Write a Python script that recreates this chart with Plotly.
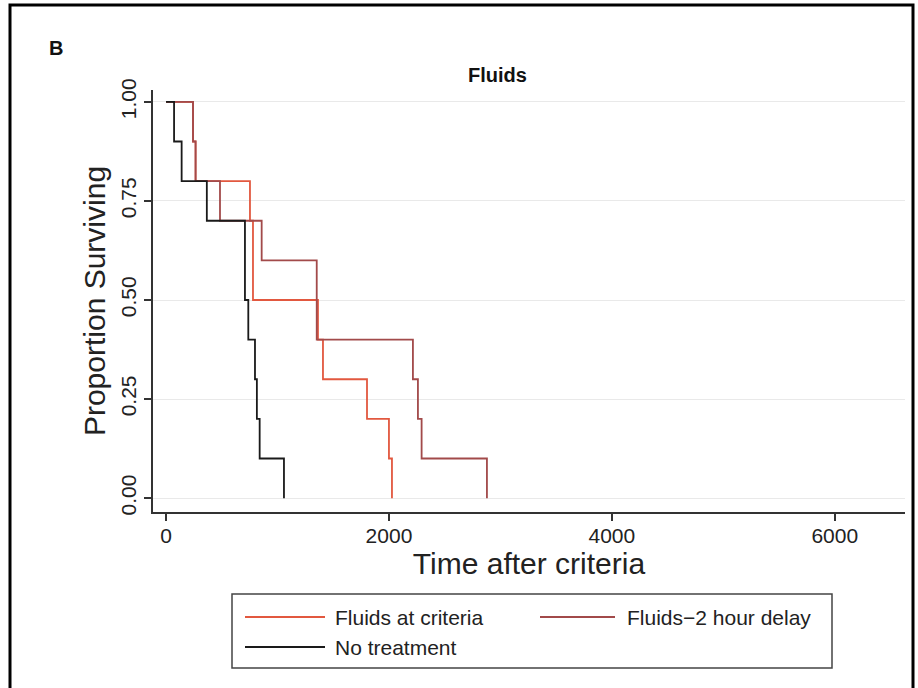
import plotly.graph_objects as go

# ---- data ----
series_names = ["Fluids at criteria", "Fluids\u22122 hour delay", "No treatment"]
t_criteria = [0, 242, 265, 753, 780, 1363, 1408, 1803, 2000, 2027]
s_criteria = [1.0, 0.9, 0.8, 0.7, 0.5, 0.4, 0.3, 0.2, 0.1, 0.0]
t_delay = [0, 242, 265, 484, 858, 1352, 2215, 2260, 2293, 2879]
s_delay = [1.0, 0.9, 0.8, 0.7, 0.6, 0.4, 0.3, 0.2, 0.1, 0.0]
t_none = [0, 72, 140, 366, 708, 738, 798, 815, 840, 1058]
s_none = [1.0, 0.9, 0.8, 0.7, 0.5, 0.4, 0.3, 0.2, 0.1, 0.0]
x_ticks = [0, 2000, 4000, 6000]
y_ticks = [0, 0.25, 0.5, 0.75, 1.0]
y_tick_labels = ["0.00", "0.25", "0.50", "0.75", "1.00"]

colors = ["#e2583f", "#a24a4a", "#1a1a1a"]
FONT = "Liberation Sans, Arial, Helvetica, sans-serif"

W, H = 918, 688
L, R, T, B = 153, 13, 90, 176
PW, PH = W - L - R, H - T - B


def px(xp):
    return (xp - L) / PW


def py(yp):
    return (H - B - yp) / PH


fig = go.Figure()
for name, tx, sy, c in zip(series_names, [t_criteria, t_delay, t_none],
                           [s_criteria, s_delay, s_none], colors):
    fig.add_trace(go.Scatter(x=tx, y=sy, mode="lines", name=name,
                             line=dict(color=c, width=1.8, shape="hv"),
                             showlegend=False))

fig.update_layout(
    width=W, height=H,
    margin=dict(l=L, r=R, t=T, b=B),
    paper_bgcolor="white", plot_bgcolor="white",
    font=dict(family=FONT, color="#222"),
)
fig.update_xaxes(range=[-117, 6630], tickvals=x_ticks,
                 ticks="outside", ticklen=7, tickwidth=1.5, tickcolor="#333",
                 showline=True, linecolor="#333", linewidth=2,
                 showgrid=False, zeroline=False,
                 ticklabelstandoff=-3,
                 tickfont=dict(size=21, family=FONT, color="#222"),
                 title=dict(text="Time after criteria", font=dict(size=30, family=FONT, color="#222"),
                            standoff=0))
fig.update_yaxes(range=[-0.035, 1.03], tickvals=y_ticks, ticktext=y_tick_labels,
                 tickangle=-90,
                 ticks="outside", ticklen=7, tickwidth=1.5, tickcolor="#333",
                 showline=True, linecolor="#333", linewidth=2,
                 showgrid=True, gridcolor="#e9e9e9", gridwidth=1, zeroline=False,
                 tickfont=dict(size=21, family=FONT, color="#222"),
                 title=dict(text="Proportion Surviving", font=dict(size=30, family=FONT, color="#222"),
                            standoff=2))

shapes = []
# outer frame
shapes.append(dict(type="rect", xref="paper", yref="paper",
                   x0=px(10), x1=px(913), y0=py(720), y1=py(5),
                   line=dict(color="black", width=3), fillcolor="rgba(0,0,0,0)"))
# legend box
shapes.append(dict(type="rect", xref="paper", yref="paper",
                   x0=px(232), x1=px(832), y0=py(668), y1=py(594),
                   line=dict(color="#444", width=1.5), fillcolor="white"))
legend_items = [(245, 325, 617, 333), (540, 615, 617, 625), (245, 325, 647, 333)]
annotations = []
for (lx0, lx1, ly, tx), name, c in zip(legend_items, series_names, colors):
    shapes.append(dict(type="line", xref="paper", yref="paper",
                       x0=px(lx0), x1=px(lx1), y0=py(ly), y1=py(ly),
                       line=dict(color=c, width=2)))
    annotations.append(dict(xref="paper", yref="paper", x=px(tx), y=py(ly),
                            text=name, showarrow=False, xanchor="left", yanchor="middle",
                            font=dict(size=21, family=FONT, color="#222")))
annotations.append(dict(xref="paper", yref="paper", x=px(497), y=py(75), text="<b>Fluids</b>",
                        showarrow=False, xanchor="center", yanchor="middle",
                        font=dict(size=20, family=FONT, color="#111")))
annotations.append(dict(xref="paper", yref="paper", x=px(47), y=py(48), text="<b>B</b>",
                        showarrow=False, xanchor="left", yanchor="middle",
                        font=dict(size=20, family=FONT, color="#111")))
fig.update_layout(shapes=shapes, annotations=annotations)

fig.write_html("out.html")
